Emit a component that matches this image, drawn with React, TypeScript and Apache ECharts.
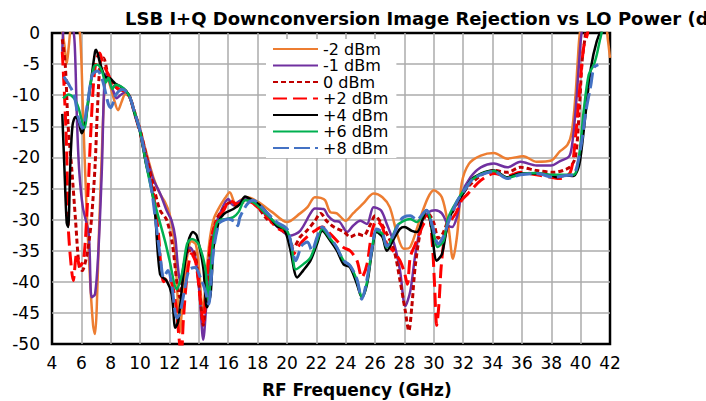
import React, { useEffect, useRef } from "react";
import * as echarts from "echarts";

const seriesNames = ["-2 dBm", "-1 dBm", "0 dBm", "+2 dBm", "+4 dBm", "+6 dBm", "+8 dBm"];
const xTicks = { min: 4, max: 42, interval: 2 };
const yTicks = { min: -50, max: 0, interval: 5 };

const lo_m2: number[][] = [
  [4.7, 0.5], [4.85, -2], [5.0, -5], [5.15, -2], [5.3, 1], [5.6, 2], [5.9, 0], [6.1, -12], [6.35, -28], [6.6, -40], [6.8, -47], [6.93, -48.4], [7.05, -44], [7.2, -32], [7.4, -19], [7.55, -10], [7.7, -7], [7.9, -8], [8.2, -10.5], [8.5, -12.4], [8.75, -11], [9.0, -9.8], [9.3, -10.4], [9.6, -12.5], [10.0, -15.5], [10.4, -19], [10.9, -23.2], [11.36, -25.9], [11.7, -27.2], [12.0, -29], [12.3, -33], [12.5, -40], [12.7, -48.2], [12.9, -43], [13.2, -36], [13.5, -33.5], [13.8, -34], [14.05, -39], [14.25, -44.5], [14.45, -41], [14.7, -34], [15.0, -30], [15.4, -28], [15.8, -26.5], [16.1, -25.6], [16.5, -27.4], [16.9, -26.8], [17.3, -26.4], [18.06, -27.2], [19.0, -28.8], [20.0, -30.4], [20.9, -29], [21.4, -28], [21.9, -26.4], [22.3, -26.5], [22.6, -26.9], [22.95, -28.8], [23.4, -29], [24.0, -30.2], [24.5, -29], [25.2, -27.4], [25.9, -25.8], [26.5, -26.4], [27.0, -28], [27.5, -32.3], [27.95, -34.7], [28.4, -34.4], [29.1, -29.6], [29.6, -26.5], [30.0, -25.3], [30.55, -26.4], [31.0, -31.2], [31.3, -36.3], [31.6, -32.3], [31.9, -24.2], [32.4, -21], [33.2, -19.7], [34.1, -19.3], [35.0, -20.2], [36.1, -19.8], [37.0, -20.7], [38.0, -20.5], [38.6, -19], [39.1, -18], [39.4, -15.9], [39.65, -10], [39.8, -4.6], [39.95, 0], [40.2, 2], [41.0, 2], [41.7, 1], [41.85, -1], [42.0, -4],
];

const lo_m1: number[][] = [
  [4.7, -3], [4.8, 1], [5.0, 2], [5.4, 1], [5.55, -2], [5.7, -14], [5.85, -22], [6.1, -28], [6.5, -32.3], [6.7, -42.5], [6.93, -42], [7.16, -35], [7.4, -21.6], [7.55, -9], [7.7, -6.5], [7.95, -8], [8.2, -9.5], [8.4, -10.5], [8.65, -10], [9.0, -9.5], [9.3, -10.3], [9.6, -12.5], [10.0, -15.6], [10.4, -19.5], [10.9, -23.5], [11.4, -26], [11.8, -28.5], [12.15, -30.2], [12.4, -33], [12.55, -37], [12.75, -40.3], [13.0, -37], [13.4, -34.5], [13.75, -36], [14.05, -42], [14.3, -49.3], [14.5, -44], [14.75, -36], [15.0, -32], [15.45, -29], [16.0, -26.7], [16.35, -27.7], [16.8, -27], [17.3, -26.7], [18.0, -27.8], [18.6, -29.4], [19.5, -31.5], [20.2, -32.6], [20.9, -31.8], [21.6, -29], [21.9, -28.2], [22.5, -28.3], [22.8, -29.4], [23.2, -30.2], [23.6, -30.4], [24.1, -32], [24.5, -31], [25.0, -30.2], [25.45, -30.7], [25.9, -28], [26.4, -28.5], [26.8, -30.7], [27.3, -33.9], [27.7, -38.2], [28.06, -43.9], [28.4, -41.5], [28.75, -35.5], [29.2, -30.2], [29.65, -28.8], [30.1, -28.5], [30.55, -29], [31.0, -31], [31.25, -31.2], [31.6, -29.4], [31.9, -25.9], [32.5, -23.2], [33.2, -21.6], [34.1, -21], [35.0, -21.6], [35.9, -20.7], [37.0, -21.3], [38.0, -21.3], [38.6, -20.6], [39.2, -19.9], [39.4, -18.3], [39.65, -12.7], [39.9, -4.6], [40.05, -0.3], [40.3, 2], [42, 2],
];

const lo_0: number[][] = [
  [4.7, -1], [4.9, -5], [5.1, -15], [5.35, -22], [5.6, -30], [5.85, -37.5], [6.05, -38.2], [6.35, -36], [6.55, -33], [6.7, -29.6], [6.93, -21.5], [7.1, -12], [7.3, -4.5], [7.5, -4], [7.8, -6.5], [8.1, -8], [8.5, -9], [9.0, -9.3], [9.3, -10.3], [9.6, -12.5], [10.0, -15.6], [10.4, -19.5], [10.9, -24.5], [11.36, -28.5], [11.8, -30], [12.2, -34], [12.5, -40], [12.7, -42.5], [12.95, -38], [13.3, -35], [13.6, -35], [13.9, -38], [14.15, -44], [14.3, -47], [14.5, -42], [14.8, -34], [15.2, -30], [15.6, -28.5], [16.1, -27.3], [16.6, -27.8], [17.2, -26.8], [18.0, -28], [18.6, -29.8], [19.3, -31], [20.0, -32], [20.45, -34.5], [20.9, -32.8], [21.35, -31.8], [21.9, -30.2], [22.3, -29], [22.7, -30.2], [23.2, -31.2], [23.9, -32], [24.3, -32.8], [24.8, -32.3], [25.2, -32.6], [25.7, -30.7], [26.0, -29.4], [26.4, -30.5], [26.8, -32.3], [27.3, -35], [27.7, -39.8], [28.06, -44.7], [28.3, -47.9], [28.5, -44.1], [28.75, -37.2], [29.2, -30.7], [29.6, -29], [30.0, -30.5], [30.3, -33], [30.6, -32.3], [31.0, -30], [31.5, -27.8], [32.0, -25.6], [32.3, -24.8], [33.2, -22.9], [34.1, -22.1], [35.0, -22.4], [35.9, -21.6], [37.0, -22.1], [38.2, -22.4], [38.8, -22.1], [39.3, -21.5], [39.65, -19.9], [39.9, -12.7], [40.1, -4.6], [40.3, -0.8], [40.5, 2], [42, 2],
];

const lo_p2: number[][] = [
  [4.7, -3], [4.85, -10], [5.0, -19], [5.1, -30.7], [5.25, -36], [5.45, -39.8], [5.68, -35.5], [5.9, -37.5], [6.15, -36.5], [6.4, -28], [6.6, -18], [6.8, -9], [7.0, -4.5], [7.25, -3.2], [7.45, -4.8], [7.7, -6], [8.0, -7.5], [8.5, -9], [9.0, -9.4], [9.3, -10.3], [9.6, -12.8], [10.0, -16], [10.4, -20.5], [10.9, -25.8], [11.25, -32.3], [11.4, -37], [11.6, -40], [11.9, -39.2], [12.2, -40.5], [12.45, -44], [12.65, -49], [12.8, -52], [12.95, -46], [13.2, -39], [13.5, -35.5], [13.8, -37], [14.1, -43], [14.3, -46.5], [14.5, -41], [14.85, -33], [15.3, -29.8], [15.7, -28.5], [16.1, -26.9], [16.6, -27.5], [17.3, -27], [18.6, -29.4], [19.3, -31.3], [20.0, -32.3], [20.45, -35.5], [20.9, -33.9], [21.35, -32.8], [21.9, -31.8], [22.4, -31.2], [22.95, -32.3], [23.4, -33.4], [23.86, -34.5], [24.3, -35], [24.77, -36.6], [25.1, -39.3], [25.45, -37.2], [25.8, -31.8], [26.1, -30.2], [26.5, -31.2], [26.8, -33.9], [27.3, -35.2], [27.7, -36.6], [28.0, -38.5], [28.2, -40.4], [28.4, -36], [28.7, -34.2], [29.2, -31.2], [29.65, -29.4], [29.9, -33.9], [30.05, -40.4], [30.2, -47], [30.35, -43.6], [30.5, -37.7], [30.7, -33.4], [31.0, -30.7], [31.5, -29], [31.9, -26.9], [32.3, -25.9], [33.2, -23.7], [34.1, -22.6], [35.0, -23], [35.9, -22.4], [37.0, -22.8], [38.0, -23.2], [38.6, -23.4], [39.3, -22.4], [39.65, -16.7], [39.9, -10], [40.2, -2.4], [40.45, -0.3], [40.7, 2], [42, 2],
];

const lo_p4: number[][] = [
  [4.7, -13], [4.85, -22], [5.0, -30.5], [5.1, -31.2], [5.25, -21], [5.4, -14.8], [5.6, -13.5], [5.8, -14], [6.02, -16.1], [6.25, -14.5], [6.6, -8.7], [6.93, -3], [7.0, -2.7], [7.27, -4.8], [7.6, -7], [7.95, -7.3], [8.3, -8.1], [8.6, -8.5], [9.0, -9.2], [9.3, -10.3], [9.6, -12.8], [10.0, -16], [10.4, -21], [10.7, -24], [11.0, -28.5], [11.36, -38.8], [11.8, -39.8], [12.15, -42], [12.4, -47.4], [12.6, -46.3], [12.95, -38.8], [13.3, -33.4], [13.6, -32], [13.86, -32.6], [14.3, -37.7], [14.55, -44.1], [14.8, -42], [15.0, -34.5], [15.35, -30.4], [15.7, -29.1], [16.35, -28.3], [16.8, -27.5], [17.15, -26.3], [17.5, -26.7], [18.06, -27.5], [18.6, -28.8], [19.3, -31], [19.8, -31.5], [20.2, -34.5], [20.7, -39.3], [21.1, -38.2], [21.6, -36.6], [22.05, -33.9], [22.4, -31.8], [22.95, -33.4], [23.4, -35], [23.86, -37.2], [24.3, -37.7], [24.77, -40.4], [25.1, -42.5], [25.45, -40.4], [25.8, -35], [26.1, -32], [26.5, -32.8], [26.8, -35], [27.3, -33], [27.7, -31.5], [28.0, -31.2], [28.5, -31.8], [28.85, -32], [29.5, -28.5], [29.8, -30.7], [30.2, -36.6], [30.56, -35.5], [31.0, -30.2], [31.6, -27.2], [32.15, -25.3], [32.5, -23.7], [33.2, -22.6], [34.1, -22.1], [35.0, -23.2], [35.9, -22.6], [37.0, -22.6], [38.0, -22.9], [38.4, -23.2], [39.0, -22.9], [39.5, -23], [39.8, -22], [40.0, -19.9], [40.35, -12.7], [40.7, -5.6], [41.1, -1.3], [41.45, 0.5], [41.8, 1], [42, 1],
];

const lo_p6: number[][] = [
  [4.75, -10.5], [4.9, -10.2], [5.1, -9.9], [5.5, -10.5], [5.8, -12], [6.2, -15.3], [6.5, -10], [6.86, -5.4], [7.1, -5.1], [7.4, -6.1], [7.65, -8], [7.85, -7.2], [8.1, -9], [8.35, -8.3], [8.7, -8.6], [9.0, -9.2], [9.3, -10.3], [9.6, -12.6], [10.0, -15.8], [10.45, -21.6], [10.85, -26], [11.25, -29.6], [11.7, -33.5], [12.0, -36.5], [12.5, -41.2], [12.84, -38.8], [13.2, -33.9], [13.52, -33.1], [13.97, -33.9], [14.43, -37.7], [14.66, -43], [14.9, -35], [15.2, -30.7], [15.5, -30], [15.9, -29.9], [16.35, -29.6], [16.7, -28.8], [17.15, -26.9], [17.7, -27.2], [18.6, -29.1], [19.3, -30.7], [20.0, -31.8], [20.3, -34], [20.6, -38], [21.1, -37.2], [21.6, -36.1], [22.05, -33.4], [22.4, -31.5], [22.95, -33.1], [23.4, -34.5], [23.86, -36.6], [24.3, -37.4], [24.77, -39.8], [25.1, -42.5], [25.45, -40.1], [25.8, -34.5], [26.1, -31.8], [26.5, -32.3], [26.8, -34.5], [27.5, -31], [27.95, -30.2], [28.4, -29.9], [28.85, -30.4], [29.5, -28.5], [29.9, -31.2], [30.27, -34.4], [30.67, -33.4], [31.0, -29.6], [31.6, -26.9], [32.2, -24.8], [32.6, -23.6], [33.2, -22.7], [34.1, -22.2], [35.0, -23.3], [35.9, -22.7], [37.0, -22.5], [38.0, -22.8], [39.5, -22.8], [39.9, -19.6], [40.2, -12.7], [40.55, -6.7], [40.9, -5.1], [41.1, -3.5], [41.35, -0.8], [41.6, 1], [42, 1],
];

const lo_p8: number[][] = [
  [4.8, -7], [5.0, -7.7], [5.2, -8.5], [5.5, -9.9], [5.8, -13.7], [6.07, -15.3], [6.4, -11.6], [6.75, -6.7], [7.1, -6.1], [7.4, -7.3], [7.66, -9.7], [7.85, -11.5], [8.0, -12], [8.2, -11], [8.35, -9.9], [8.8, -9.1], [9.0, -9.3], [9.3, -10.3], [9.6, -12.6], [10.0, -15.8], [10.45, -21], [10.8, -25.5], [11.1, -31], [11.4, -36.5], [11.6, -39.3], [11.9, -38.2], [12.15, -40.4], [12.5, -45.8], [12.7, -45.2], [13.1, -40.4], [13.36, -38], [13.75, -37.7], [14.1, -39.3], [14.45, -41.5], [14.66, -43.6], [15.0, -35], [15.35, -30.7], [15.6, -30.2], [16.0, -29.9], [16.5, -30.4], [16.65, -31], [16.8, -29.6], [17.3, -27.5], [17.7, -26.9], [18.6, -28.8], [19.3, -30.4], [20.0, -31.5], [20.3, -34], [20.6, -36.6], [21.0, -34.2], [21.4, -33.6], [21.7, -35], [22.05, -32.8], [22.4, -31.2], [22.95, -32.8], [23.4, -34.5], [23.86, -36.6], [24.3, -37.4], [24.77, -39.6], [25.1, -42.8], [25.45, -39.6], [25.8, -34.5], [26.1, -31.5], [26.5, -32.1], [26.8, -34.3], [27.3, -32.3], [27.7, -30.2], [27.95, -29.6], [28.4, -29.4], [28.85, -30], [29.5, -28.5], [29.9, -31], [30.3, -33.9], [30.7, -32.5], [31.0, -30.4], [31.6, -27], [32.2, -24.9], [32.6, -23.6], [33.2, -22.8], [34.1, -22.3], [35.0, -23.4], [35.9, -22.8], [37.0, -22.6], [38.2, -23.2], [39.0, -22.9], [39.5, -22.8], [40.0, -18.5], [40.35, -12.7], [40.7, -8.3], [40.9, -5.6], [41.2, -5.1],
];

const seriesData = [lo_m2, lo_m1, lo_0, lo_p2, lo_p4, lo_p6, lo_p8];
const seriesColors = ["#ED7D31", "#7030A0", "#C00000", "#FF0000", "#000000", "#00B050", "#4472C4"];
const seriesDash: any[] = ["solid", "solid", [5, 3], [14, 6], "solid", "solid", [16, 5]];

const FONT = "DejaVu Sans";

export default function App() {
  const ref = useRef<HTMLDivElement>(null);
  useEffect(() => {
    if (!ref.current) return;
    const chart = echarts.init(ref.current, null, { renderer: "svg" });
    chart.setOption({
      animation: false,
      backgroundColor: "#fff",
      title: {
        text: "LSB I+Q Downconversion Image Rejection vs LO Power (dBm)",
        left: 125,
        top: 9,
        padding: 0,
        textStyle: { fontFamily: FONT, fontSize: 18, fontWeight: "bold", color: "#000" },
      },
      legend: {
        orient: "vertical",
        left: 266,
        top: 39,
        itemWidth: 45,
        itemHeight: 14,
        itemGap: 0.5,
        padding: [2, 8, 2, 6],
        backgroundColor: "#fff",
        data: seriesNames,
        itemStyle: { color: "transparent", borderColor: "transparent", borderWidth: 0, opacity: 0 },
        textStyle: { fontFamily: FONT, fontSize: 16, color: "#000", lineHeight: 16 },
      },
      grid: {
        left: 52,
        right: 96,
        top: 33,
        bottom: 57,
        show: true,
        borderColor: "#000",
        borderWidth: 2.5,
        backgroundColor: "transparent",
      },
      xAxis: {
        type: "value",
        min: xTicks.min,
        max: xTicks.max,
        interval: xTicks.interval,
        axisLine: { show: false },
        axisTick: { show: false },
        axisLabel: { fontFamily: FONT, fontSize: 17, color: "#000", margin: 10 },
        splitLine: { show: true, showMinLine: false, showMaxLine: false, lineStyle: { color: "#ababab", width: 1.5 } },
      },
      yAxis: {
        type: "value",
        min: yTicks.min,
        max: yTicks.max,
        interval: yTicks.interval,
        axisLine: { show: false },
        axisTick: { show: false },
        axisLabel: { fontFamily: FONT, fontSize: 17, color: "#000", margin: 12 },
        splitLine: { show: true, showMinLine: false, showMaxLine: false, lineStyle: { color: "#ababab", width: 1.5 } },
      },
      graphic: [
        {
          type: "text",
          left: 262,
          top: 381,
          style: { text: "RF Frequency (GHz)", font: `bold 17px "${FONT}"`, fill: "#000" },
        },
      ],
      series: seriesNames.map((name, i) => ({
        name,
        type: "line",
        data: seriesData[i],
        symbol: "none",
        smooth: 0.3,
        clip: true,
        lineStyle: { color: seriesColors[i], width: i === 2 || i === 3 || i === 6 ? 3 : 2.5, type: seriesDash[i] },
        itemStyle: { color: seriesColors[i] },
      })),
    });
    return () => chart.dispose();
  }, []);
  return <div ref={ref} style={{ position: "fixed", left: 0, top: 0, width: 706, height: 401 }} />;
}
